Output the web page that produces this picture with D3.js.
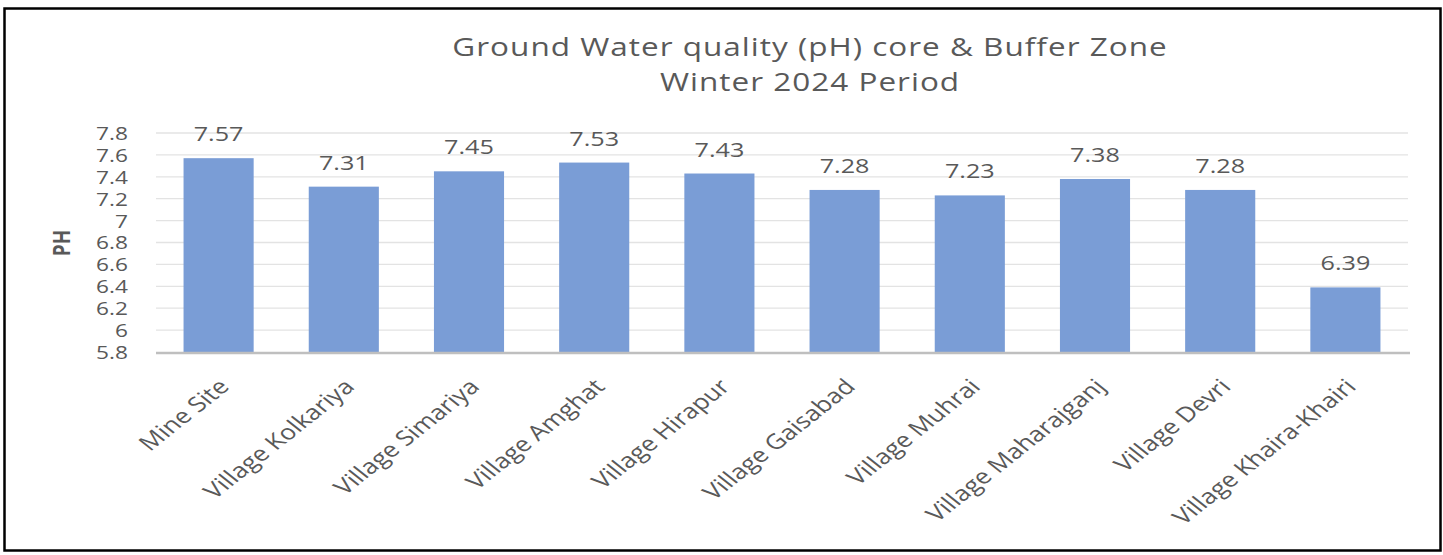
<!DOCTYPE html>
<html>
<head>
<meta charset="utf-8">
<script src="https://cdn.jsdelivr.net/npm/d3@7"></script>
<style>
  body { margin: 0; background: #fff; }
  text { font-family: "Open Sans", sans-serif; fill: #595959; }
</style>
</head>
<body>
<div id="chart"></div>
<script>
// chart data
var sites = ["Mine Site", "Village Kolkariya", "Village Simariya", "Village Amghat",
  "Village Hirapur", "Village Gaisabad", "Village Muhrai", "Village Maharajganj",
  "Village Devri", "Village Khaira-Khairi"];
var phValues = [7.57, 7.31, 7.45, 7.53, 7.43, 7.28, 7.23, 7.38, 7.28, 6.39];
var yTicks = [5.8, 6, 6.2, 6.4, 6.6, 6.8, 7, 7.2, 7.4, 7.6, 7.8];
var titleLines = ["Ground Water quality (pH) core & Buffer Zone", "Winter 2024 Period"];

var svgWidth = 1443;
var svgHeight = 555;

// the picture is a bit wider than tall, so text gets stretched sideways
var stretch = 1.26;

var margin = { top: 133, bottom: 203, left: 156, right: 35 };
var width = svgWidth - margin.left - margin.right;
var height = svgHeight - margin.top - margin.bottom;

var svg = d3.select("#chart")
  .append("svg")
  .attr("width", svgWidth)
  .attr("height", svgHeight);

// outer frame
svg.append("rect")
  .attr("x", 4.5)
  .attr("y", 8.5)
  .attr("width", 1436)
  .attr("height", 542)
  .attr("fill", "none")
  .attr("stroke", "#000")
  .attr("stroke-width", 2.5);

var chartGroup = svg.append("g")
  .attr("transform", `translate(${margin.left}, ${margin.top})`);

var xScale = d3.scaleBand()
  .domain(sites)
  .range([0, width])
  .paddingInner(0.44)
  .paddingOuter(0.22);

var yScale = d3.scaleLinear()
  .domain([5.8, 7.8])
  .range([height, 0]);

// gridlines
chartGroup.selectAll(".grid")
  .data(yTicks.slice(1))
  .enter()
  .append("line")
  .attr("x1", 0)
  .attr("x2", width)
  .attr("y1", d => yScale(d))
  .attr("y2", d => yScale(d))
  .attr("stroke", "#e3e3e3")
  .attr("stroke-width", 1.3);

// y axis labels only
var yAxis = d3.axisLeft(yScale)
  .tickValues(yTicks)
  .tickFormat(d => String(+d.toFixed(1)))
  .tickSize(0)
  .tickPadding(0);

var yG = chartGroup.append("g").call(yAxis);
yG.select(".domain").remove();
yG.selectAll("text")
  .attr("x", 0)
  .attr("dy", "0.36em")
  .attr("transform", `translate(-28, 0) scale(${stretch}, 1)`)
  .attr("font-size", "18px")
  .style("fill", "#595959");

// bars
chartGroup.selectAll(".bar")
  .data(phValues)
  .enter()
  .append("rect")
  .attr("x", (d, i) => xScale(sites[i]))
  .attr("y", d => yScale(d))
  .attr("width", xScale.bandwidth())
  .attr("height", d => height - yScale(d))
  .attr("fill", "#7a9dd6");

// value labels
chartGroup.selectAll(".val")
  .data(phValues)
  .enter()
  .append("text")
  .attr("transform", (d, i) => `translate(${xScale(sites[i]) + xScale.bandwidth() / 2}, ${yScale(d) - 17}) scale(${stretch}, 1)`)
  .attr("text-anchor", "middle")
  .attr("font-size", "20px")
  .text(d => d.toFixed(2));

// baseline
chartGroup.append("line")
  .attr("x1", 0)
  .attr("x2", width + 2)
  .attr("y1", height + 1)
  .attr("y2", height + 1)
  .attr("stroke", "#bfbfbf")
  .attr("stroke-width", 2.5);

// x labels, rotated
chartGroup.selectAll(".xlab")
  .data(sites)
  .enter()
  .append("text")
  .attr("transform", d => `translate(${xScale(d) + xScale.bandwidth() / 2 + 12}, ${height + 36}) scale(${stretch}, 1) rotate(-45)`)
  .attr("text-anchor", "end")
  .attr("font-size", "21px")
  .text(d => d);

// y axis title
svg.append("g")
  .attr("transform", `translate(70, 243) scale(${stretch}, 1)`)
  .append("text")
  .attr("text-anchor", "middle")
  .attr("transform", "rotate(-90)")
  .attr("font-size", "19px")
  .attr("font-weight", "bold")
  .text("PH");

// title
svg.selectAll(".title")
  .data(titleLines)
  .enter()
  .append("text")
  .attr("transform", (d, i) => `translate(810, ${56 + i * 35}) scale(${stretch}, 1)`)
  .attr("text-anchor", "middle")
  .attr("font-size", "25px")
  .attr("letter-spacing", "0.8px")
  .text(d => d);
</script>
</body>
</html>
